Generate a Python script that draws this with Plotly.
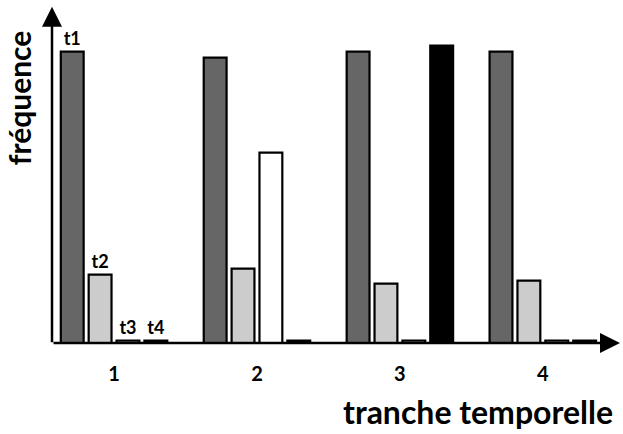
import plotly.graph_objects as go

groups = [1, 2, 3, 4]
group_labels = ["1", "2", "3", "4"]
series = ["t1", "t2", "t3", "t4"]
t1 = [98, 96, 98, 98]
t2 = [23, 25, 20, 21]
t3 = [0.8, 64, 0.8, 0.8]
t4 = [0.8, 0.8, 100, 0.8]
values = [t1, t2, t3, t4]
colors = ["#666666", "#cccccc", "#ffffff", "#000000"]

FONT = "Lato"

fig = go.Figure()
for name, vals, col in zip(series, values, colors):
    fig.add_trace(go.Bar(
        x=groups, y=vals, name=name,
        marker=dict(color=col, line=dict(color="black", width=2.2)),
        text=[name, "", "", ""], textposition="outside",
        textfont=dict(family=FONT, size=18, color="black", weight="bold"),
        cliponaxis=False,
    ))

fig.update_layout(
    width=623, height=434,
    margin=dict(l=52, r=3, t=10, b=91),
    paper_bgcolor="white", plot_bgcolor="white",
    barmode="group", bargap=0.22, bargroupgap=0.18,
    showlegend=False,
    xaxis=dict(range=[0.566, 4.54], tickvals=groups, ticktext=group_labels,
               showgrid=False, zeroline=False, showline=False, ticks="",
               ticklabelstandoff=17,
               tickfont=dict(family=FONT, size=20, color="black", weight="bold")),
    yaxis=dict(range=[0, 112], showgrid=False, zeroline=False, showline=False,
               showticklabels=False, ticks=""),
    annotations=[
        dict(xref="paper", yref="paper", x=0, y=1.01, ax=0, ay=337,
             axref="pixel", ayref="pixel", showarrow=True, arrowhead=2,
             arrowsize=1.6, arrowwidth=2.5, arrowcolor="black", text=""),
        dict(xref="paper", yref="paper", x=1.0, y=0, ax=-568, ay=0,
             showarrow=True, arrowhead=2, arrowsize=1.6, arrowwidth=2.5,
             arrowcolor="black", text=""),
        dict(xref="paper", yref="paper", x=0.991, y=-0.207, xanchor="right",
             yanchor="middle", showarrow=False, text="tranche temporelle",
             font=dict(family=FONT, size=32, color="black", weight="bold")),
        dict(xref="paper", yref="paper", x=-0.058, y=0.735, xanchor="center",
             yanchor="middle", showarrow=False, text="fréquence", textangle=-90,
             font=dict(family=FONT, size=30, color="black", weight="bold")),
    ],
)

fig.write_html("out.html", config={"displayModeBar": False},
               post_script="document.body.style.margin='0';")
